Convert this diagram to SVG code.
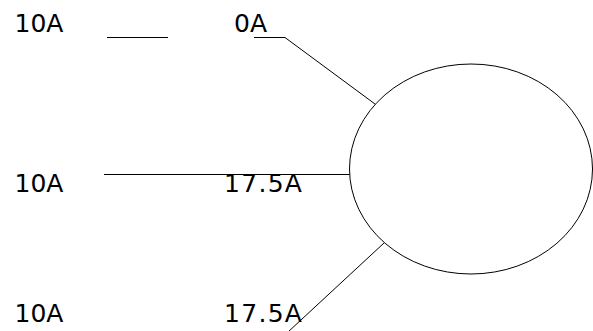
<svg xmlns="http://www.w3.org/2000/svg" width="593" height="331" viewBox="0 0 593 331">
<style>
.t{font-family:"DejaVu Sans",Verdana,sans-serif;font-size:25px;fill:#000}
.w{letter-spacing:1.3px}
.l{stroke:#000;stroke-width:1;fill:none}
</style>
<rect width="593" height="331" fill="#fff"/>
<g id="node-circle"><ellipse class="l" cx="471" cy="169" rx="121.5" ry="105"/></g>
<g id="labels">
<text class="t" x="14.5" y="31.5">10A</text>
<text class="t" x="234" y="31.5">0A</text>
<text class="t" x="14.5" y="191.5">10A</text>
<text class="t w" x="224" y="191.5">17.5A</text>
<text class="t" x="14.5" y="321.5">10A</text>
<text class="t w" x="224" y="321.5">17.5A</text>
</g>
<g id="connectors">
<line class="l" x1="107" y1="37.5" x2="168" y2="37.5"/>
<polyline class="l" points="254,37.5 285,37.5 375,104"/>
<line class="l" x1="104" y1="174.5" x2="349.5" y2="174.5"/>
<line class="l" x1="384" y1="243" x2="288" y2="332"/>
</g>
</svg>
